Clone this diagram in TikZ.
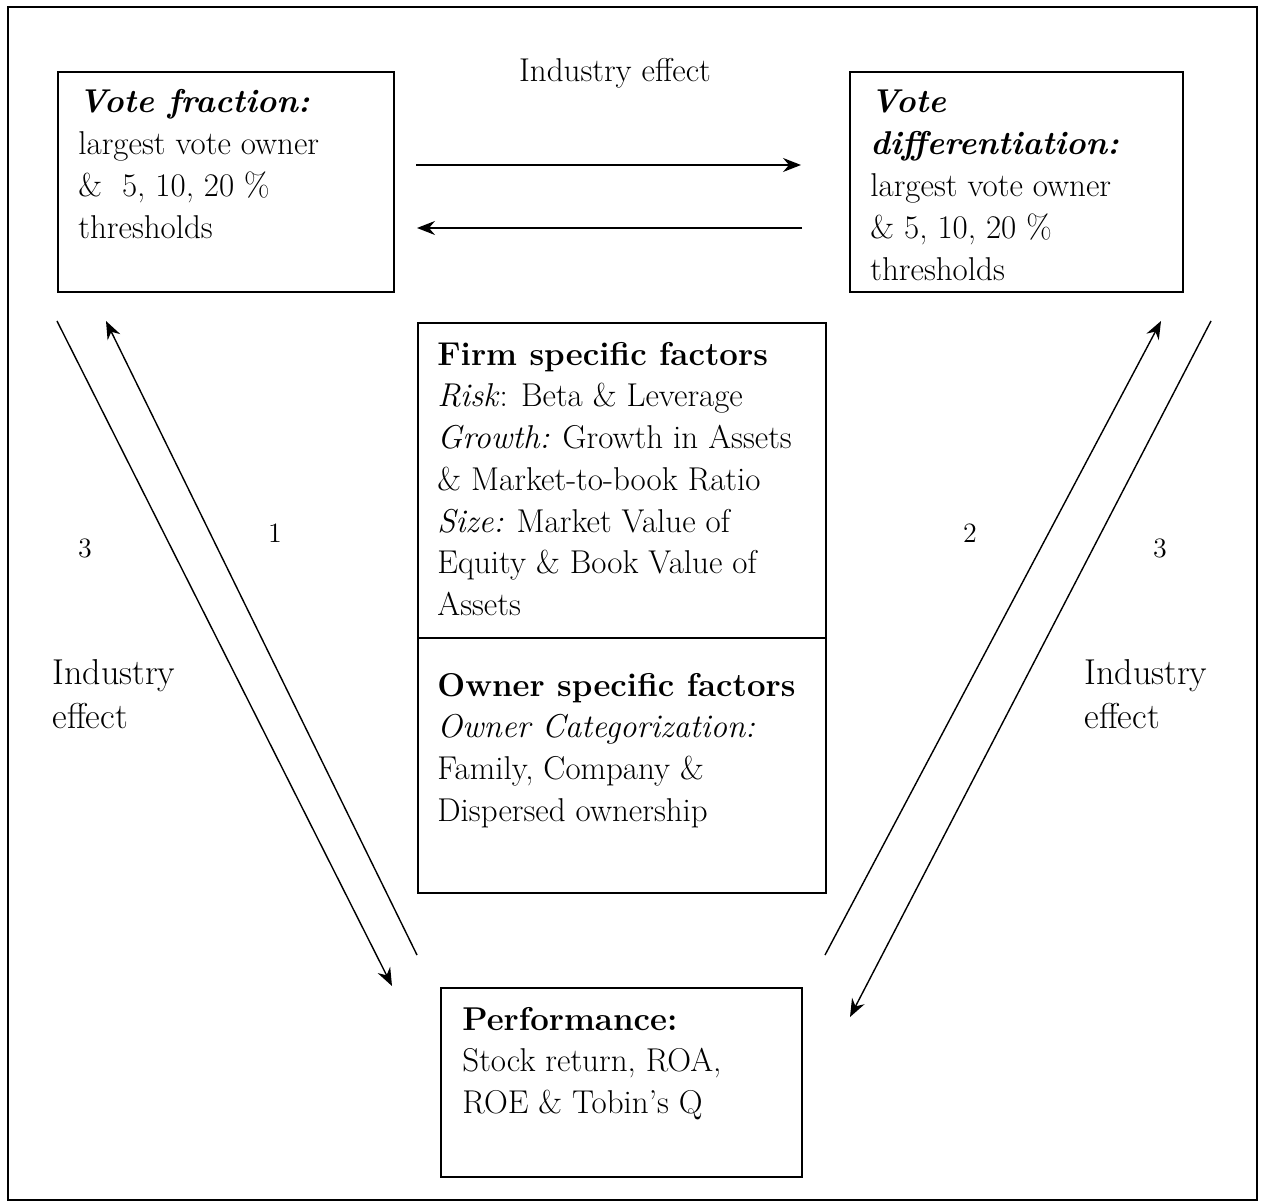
\documentclass[tikz,border=0pt]{standalone}
\usepackage{fontspec}
\usetikzlibrary{arrows.meta}
\newcommand\mylines[1]{\begin{tabular}[t]{@{}l@{}}#1\end{tabular}}
\begin{document}
\begin{tikzpicture}[x=0.5pt,y=-0.5pt,
  box/.style={draw,line width=1pt,rectangle,inner sep=0pt,anchor=north west},
  txt/.style={inner sep=0pt,anchor=base west,font=\fontsize{16.5}{20.9}\selectfont},
  sidetxt/.style={inner sep=0pt,anchor=base west,font=\fontsize{18}{22}\selectfont},
  num/.style={inner sep=0pt,font=\fontsize{14}{16}\selectfont},
  conn/.style={line width=0.7pt},
  arr/.style={conn,-{Stealth[length=9pt,width=7pt,inset=3pt]}}]
\useasboundingbox (0,0) rectangle (1263,1203);
\draw[line width=1pt] (8,7) rectangle (1257,1200);
% boxes
\node[box,minimum width=168pt,minimum height=110pt] (vf) at (57,71) {};
\node[box,minimum width=166.5pt,minimum height=110pt] (vd) at (849,71) {};
\node[box,minimum width=204pt,minimum height=157.5pt] (firm) at (417,322) {};
\node[box,minimum width=204pt,minimum height=127.5pt] (owner) at (417,637) {};
\node[box,minimum width=180.5pt,minimum height=94.5pt] (perf) at (440,987) {};
% texts
\node[txt] (vft) at (78,113) {\mylines{\textbf{\textit{Vote fraction:}}\\largest vote owner\\\&\ \ 5, 10, 20 \%\\thresholds}};
\node[txt] (vdt) at (870,113) {\mylines{\textbf{\textit{Vote}}\\\textbf{\textit{differentiation:}}\\largest vote owner\\\& 5, 10, 20 \%\\thresholds}};
\node[txt] (firmt) at (437,365) {\mylines{\textbf{Firm specific factors}\\\textit{Risk}: Beta \& Leverage\\\textit{Growth:} Growth in Assets\\\& Market-to-book Ratio\\\textit{Size:} Market Value of\\Equity \& Book Value of\\Assets}};
\node[txt] (ownert) at (437,696) {\mylines{\textbf{Owner specific factors}\\\textit{Owner Categorization:}\\Family, Company \&\\Dispersed ownership}};
\node[txt] (perft) at (462,1030) {\mylines{\textbf{Performance:}\\Stock return, ROA,\\ROE \& Tobin's Q}};
\node[inner sep=0pt,anchor=base,font=\fontsize{16.5}{20.9}\selectfont] (ietop) at (615,82) {Industry effect};
\node[sidetxt] (iel) at (52,684) {\mylines{Industry\\effect}};
\node[sidetxt] (ier) at (1084,684) {\mylines{Industry\\effect}};
\node[num] (n3l) at (85,548) {3};
\node[num] (n1) at (275,533) {1};
\node[num] (n2) at (970,533) {2};
\node[num] (n3r) at (1160,548) {3};
% connector end points
\coordinate (h1a) at (416,165);
\coordinate (h1b) at (801,165);
\coordinate (h2a) at (802,228);
\coordinate (h2b) at (417,228);
\coordinate (l3a) at (57,321);
\coordinate (l3b) at (392,986);
\coordinate (l1a) at (417,955);
\coordinate (l1b) at (106,321);
\coordinate (r2a) at (825,955);
\coordinate (r2b) at (1161,321);
\coordinate (r3a) at (1211,321);
\coordinate (r3b) at (850,1017);
\draw[arr] (h1a) -- (h1b);
\draw[arr] (h2a) -- (h2b);
\draw[arr] (l3a) -- (l3b);
\draw[arr] (l1a) -- (l1b);
\draw[arr] (r2a) -- (r2b);
\draw[arr] (r3a) -- (r3b);
\end{tikzpicture}
\end{document}
